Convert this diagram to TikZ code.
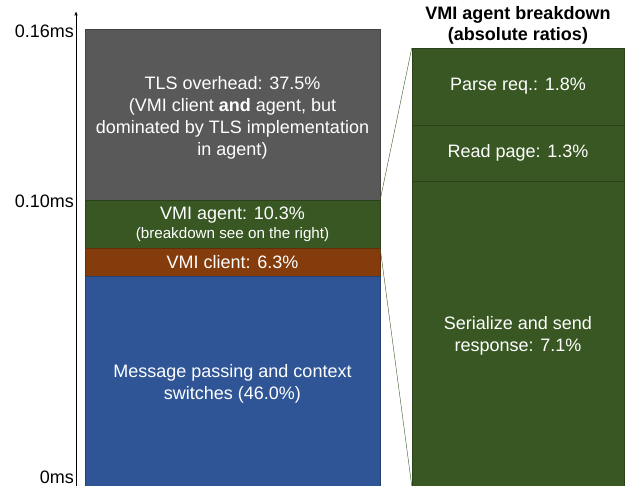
\documentclass[tikz,border=0pt]{standalone}
\usepackage{fontspec}
\setmainfont{Liberation Sans}
\usetikzlibrary{arrows}

\definecolor{tlsgray}{HTML}{595959}
\definecolor{agentgreen}{HTML}{385723}
\definecolor{clientorange}{HTML}{843C0C}
\definecolor{msgblue}{HTML}{2F5597}

\begin{document}
\begin{tikzpicture}[x=1pt, y=-1pt,
  every node/.style={font=\fontsize{18}{22}\selectfont},
  seg/.style={rectangle, fill=#1, draw=#1!75!black, text=white, align=center,
    inner sep=0pt, minimum width=295pt},
  part/.style={rectangle, fill=agentgreen, draw=agentgreen!75!black, text=white,
    align=center, inner sep=0pt, minimum width=212pt},
  tick/.style={anchor=east, inner sep=1pt}]
  \useasboundingbox (0,0) rectangle (625,486);
  % stacked bar
  \node[seg=tlsgray, minimum height=172pt] (tls) at (232.5,115)
    {\\[-4pt]TLS overhead: 37.5\%\\(VMI client \textbf{and} agent, but\\dominated by TLS implementation\\in agent)};
  \node[seg=agentgreen, minimum height=48pt] (agent) at (232.5,224)
    {VMI agent: 10.3\%\\[-3pt]{\fontsize{15.2}{18}\selectfont(breakdown see on the right)}};
  \node[seg=clientorange, minimum height=28pt] (client) at (232.5,262) {VMI client: 6.3\%};
  \node[seg=msgblue, minimum height=210pt] (msg) at (232.5,381)
    {\\[-4pt]Message passing and context\\switches (46.0\%)};
  % axis
  \coordinate (o) at (76,486);
  \coordinate (top) at (76,12);
  \draw[->, >=stealth'] (o) -- (top);
  \node[tick] (t16) at (75,31) {0.16ms};
  \node[tick] (t10) at (75,201) {0.10ms};
  \node[tick] (t0) at (75,477) {0ms};
  % breakdown
  \node[font=\bfseries\fontsize{18}{21}\selectfont, align=center] (title) at (518,25.5)
    {VMI agent breakdown\\(absolute ratios)};
  \node[part, minimum height=77pt] (parse) at (518,86.5) {Parse req.: 1.8\%};
  \node[part, minimum height=56pt] (read) at (518,153) {Read page: 1.3\%};
  \node[part, minimum height=305pt] (send) at (518,333.5)
    {\\[-4pt]Serialize and send\\response: 7.1\%};
  \draw[agentgreen] (agent.north east) -- (parse.north west)
    (agent.south east) -- (send.south west);
\end{tikzpicture}
\end{document}
